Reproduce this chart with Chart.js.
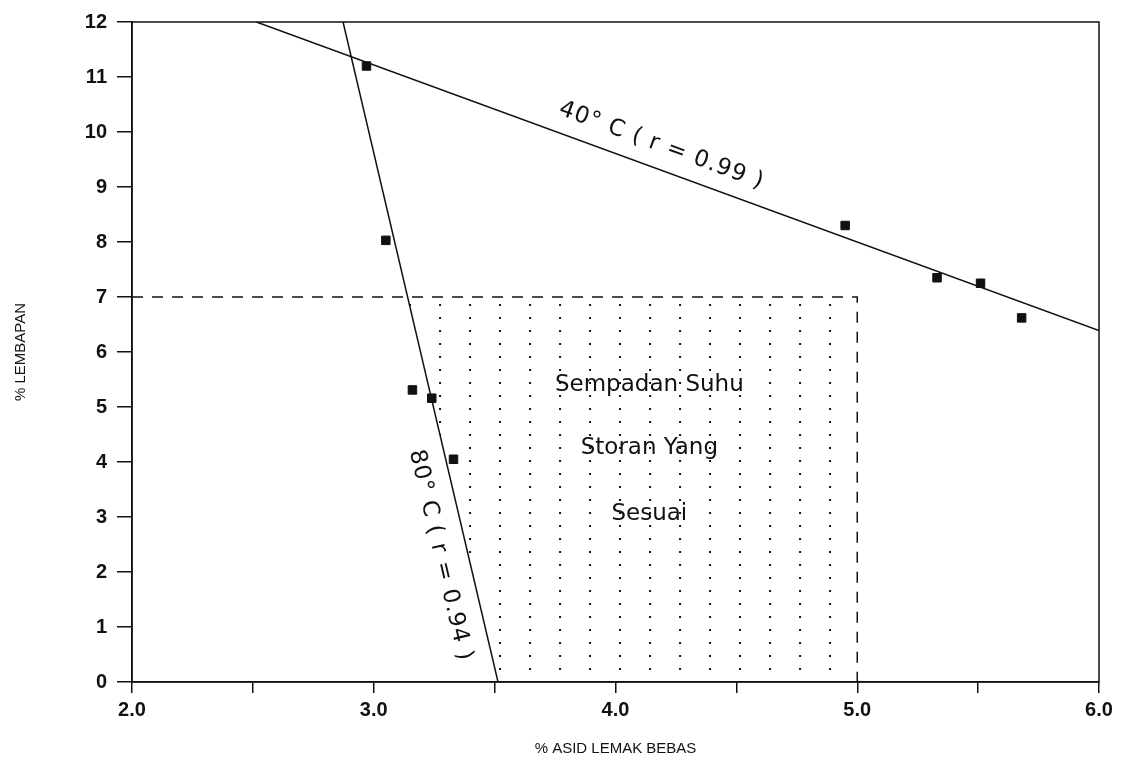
<!DOCTYPE html>
<html>
<head>
<meta charset="utf-8">
<script src="https://cdn.jsdelivr.net/npm/chart.js@4.4.1/dist/chart.umd.min.js"></script>
<style>
    body { margin: 0; background: #fff; }
    #wrap { width: 1134px; height: 772px; }
</style>
</head>
<body>
<div id="wrap"><canvas id="chart" width="1134" height="772"></canvas></div>
<script>
// measured points, % free fatty acid vs % moisture
const ffa40 = [2.97, 4.95, 5.33, 5.51, 5.68];
const moist40 = [11.2, 8.3, 7.35, 7.25, 6.62];
const ffa80 = [3.05, 3.16, 3.24, 3.33];
const moist80 = [8.03, 5.31, 5.16, 4.05];

// regression lines (end points)
const fit40X = [2.515, 6.0];
const fit40Y = [12, 6.39];
const fit80X = [2.873, 3.514];
const fit80Y = [12, 0];

// storage limit (dashed) and the dotted region it encloses
const limitX = [2.0, 5.0, 5.0];
const limitY = [7, 7, 0];
const zoneX = [3.14, 5.0, 5.0, 3.514];
const zoneY = [7, 7, 0, 0];

const xTicks = [2.0, 3.0, 4.0, 5.0, 6.0];
const yTicks = [0, 1, 2, 3, 4, 5, 6, 7, 8, 9, 10, 11, 12];

const label40 = '40\u00B0 C ( r = 0.99 )';
const label80 = '80\u00B0 C ( r = 0.94 )';
const zoneText = ['Sempadan Suhu', 'Storan Yang', 'Sesuai'];
const zoneTextY = [5.4, 4.25, 3.05];

const pts = (xs, ys) => xs.map((x, i) => ({ x: x, y: ys[i] }));

const INK = '#111';
const TXT_FONT = '"DejaVu Sans", sans-serif';

function dotPattern(ctx) {
    const c = document.createElement('canvas');
    c.width = 30;
    c.height = 13;
    const g = c.getContext('2d');
    g.fillStyle = INK;
    g.fillRect(0, 0, 2, 2);
    return ctx.createPattern(c, 'repeat');
}

const decor = {
    id: 'decor',
    beforeDatasetsDraw(chart) {
        const { ctx, scales: { x, y } } = chart;
        ctx.save();
        ctx.beginPath();
        zoneX.forEach((v, i) => {
            const px = x.getPixelForValue(v), py = y.getPixelForValue(zoneY[i]);
            if (i === 0) ctx.moveTo(px, py); else ctx.lineTo(px, py);
        });
        ctx.closePath();
        const pat = dotPattern(ctx);
        // line the dots up with the foot of the 80 C line
        pat.setTransform(new DOMMatrix().translate(x.getPixelForValue(3.514) + 1, y.getPixelForValue(7) + 7));
        ctx.fillStyle = pat;
        ctx.fill();
        ctx.restore();
    },
    afterDraw(chart) {
        const { ctx, chartArea: a, scales: { x, y } } = chart;
        ctx.save();
        ctx.strokeStyle = INK;
        ctx.lineWidth = 1.5;
        ctx.strokeRect(a.left, a.top, a.right - a.left, a.bottom - a.top);

        ctx.fillStyle = INK;
        ctx.textAlign = 'center';
        ctx.textBaseline = 'middle';

        // labels along the two lines
        const ang = (xs, ys) => Math.atan2(
            y.getPixelForValue(ys[1]) - y.getPixelForValue(ys[0]),
            x.getPixelForValue(xs[1]) - x.getPixelForValue(xs[0]));
        ctx.font = '23px ' + TXT_FONT;
        ctx.letterSpacing = '1px';
        ctx.save();
        ctx.translate(x.getPixelForValue(4.19), y.getPixelForValue(9.75));
        ctx.rotate(ang(fit40X, fit40Y));
        ctx.fillText(label40, 0, 0);
        ctx.restore();

        ctx.save();
        ctx.translate(x.getPixelForValue(3.275), y.getPixelForValue(2.3));
        ctx.rotate(ang(fit80X, fit80Y));
        ctx.fillText(label80, 0, 0);
        ctx.restore();

        ctx.letterSpacing = '0px';
        ctx.font = '23px ' + TXT_FONT;
        zoneText.forEach((t, i) => {
            ctx.fillText(t, x.getPixelForValue(4.14), y.getPixelForValue(zoneTextY[i]));
        });
        ctx.restore();
    }
};

new Chart(document.getElementById('chart'), {
    type: 'scatter',
    data: {
        datasets: [
            {
                label: 'limit',
                data: pts(limitX, limitY),
                showLine: true,
                borderColor: INK,
                borderWidth: 1.5,
                borderDash: [11, 9],
                pointRadius: 0,
                fill: false
            },
            {
                label: '40 C fit',
                data: pts(fit40X, fit40Y),
                showLine: true,
                borderColor: INK,
                borderWidth: 1.5,
                pointRadius: 0
            },
            {
                label: '80 C fit',
                data: pts(fit80X, fit80Y),
                showLine: true,
                borderColor: INK,
                borderWidth: 1.5,
                pointRadius: 0
            },
            {
                label: '40 C',
                data: pts(ffa40, moist40),
                pointStyle: 'rect',
                pointRadius: 6,
                backgroundColor: INK,
                borderColor: INK
            },
            {
                label: '80 C',
                data: pts(ffa80, moist80),
                pointStyle: 'rect',
                pointRadius: 6,
                backgroundColor: INK,
                borderColor: INK
            }
        ]
    },
    options: {
        responsive: false,
        animation: false,
        layout: { padding: { top: 17, right: 35, left: 0, bottom: 0 } },
        plugins: {
            legend: { display: false },
            tooltip: { enabled: false }
        },
        scales: {
            x: {
                type: 'linear',
                min: 2,
                max: 6,
                afterFit: s => { s.height = 90; },
                afterBuildTicks: s => {
                    s.ticks = [];
                    for (let i = 0; i < xTicks.length; i++) {
                        s.ticks.push({ value: xTicks[i] });
                        if (i < xTicks.length - 1) s.ticks.push({ value: (xTicks[i] + xTicks[i + 1]) / 2 });
                    }
                },
                ticks: {
                    autoSkip: false,
                    maxRotation: 0,
                    padding: 5,
                    color: INK,
                    font: { family: '"Liberation Sans", sans-serif', size: 20, weight: 'bold' },
                    callback: v => xTicks.includes(v) ? v.toFixed(1) : ''
                },
                grid: { drawOnChartArea: false, drawTicks: true, tickLength: 11, color: INK, lineWidth: 1.5 },
                border: { display: true, color: INK, width: 1.5 },
                title: {
                    display: true,
                    text: '% ASID LEMAK BEBAS',
                    color: INK,
                    font: { family: '"Liberation Sans", sans-serif', size: 15 },
                    padding: { top: 0, bottom: 14 }
                }
            },
            y: {
                type: 'linear',
                min: 0,
                max: 12,
                afterFit: s => { s.width = 132; },
                afterBuildTicks: s => { s.ticks = yTicks.map(v => ({ value: v })); },
                ticks: {
                    padding: 10,
                    color: INK,
                    font: { family: '"Liberation Sans", sans-serif', size: 20, weight: 'bold' }
                },
                grid: { drawOnChartArea: false, drawTicks: true, tickLength: 15, color: INK, lineWidth: 1.5 },
                border: { display: true, color: INK, width: 1.5 },
                title: {
                    display: true,
                    text: '% LEMBAPAN',
                    color: INK,
                    font: { family: '"Liberation Sans", sans-serif', size: 15 },
                    padding: { top: 12, bottom: 0 }
                }
            }
        }
    },
    plugins: [decor]
});
</script>
</body>
</html>
